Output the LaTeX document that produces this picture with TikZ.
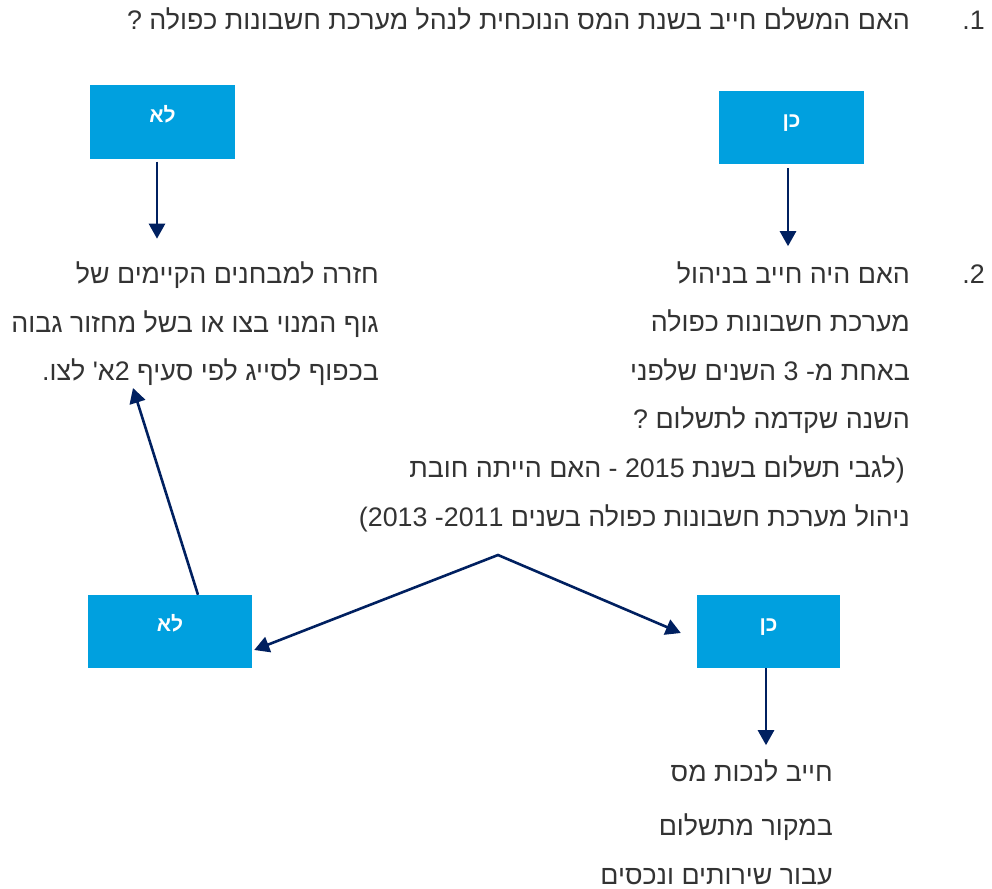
\documentclass[tikz,border=0pt]{standalone}
\usepackage{fontspec}
\setmainfont{Liberation Sans}
\newfontfamily\heb[Script=Hebrew]{Liberation Sans}
\TeXXeTstate=1
\usetikzlibrary{arrows.meta,calc}
\definecolor{boxblue}{RGB}{0,160,223}
\definecolor{navy}{RGB}{0,32,96}
\definecolor{txtgray}{RGB}{51,51,51}
\newcommand\RL[1]{\beginR #1\endR}
\begin{document}
\begin{tikzpicture}[x=1pt,y=-1pt,
  txt/.style={inner sep=0pt, anchor=base east, font=\heb\fontsize{26.8}{30}\selectfont, text=txtgray},
  ybox/.style={fill=boxblue, minimum height=73pt, inner sep=0pt, text height=0pt, text depth=0pt, text=white, font=\heb\bfseries\fontsize{21}{24}\selectfont},
  arr/.style={draw=navy, line width=2.6pt, -{Triangle[width=16pt,length=15pt]}},
  arrboth/.style={draw=navy, line width=2.6pt, line join=miter, {Triangle[width=16pt,length=15pt]}-{Triangle[width=16pt,length=15pt]}}]
\useasboundingbox[fill=white] (0,0) rectangle (992,888);

% question 1
\node[txt] (n1) at (985,30) {\RL{1.}};
\node[txt] (q1) at (910,30) {\RL{האם המשלם חייב בשנת המס הנוכחית לנהל מערכת חשבונות כפולה ?}};

% first answers
\node[ybox, minimum width=145pt] (noA) at (162.5,122) {\RL{לא}};
\node[ybox, minimum width=145pt] (yesA) at (791.5,127.5) {\RL{כן}};

% left text block
\node[txt] (l1) at (379,283) {\RL{חזרה למבחנים הקיימים של}};
\node[txt] (l2) at (379,332) {\RL{גוף המנוי בצו או בשל מחזור גבוה}};
\node[txt] (l3) at (379,380) {\RL{בכפוף לסייג לפי סעיף 2א' לצו.}};

% question 2
\node[txt] (n2) at (985,283) {\RL{2.}};
\node[txt] (q2a) at (910,283) {\RL{האם היה חייב בניהול}};
\node[txt] (q2b) at (910,331) {\RL{מערכת חשבונות כפולה}};
\node[txt] (q2c) at (910,380) {\RL{באחת מ- 3 השנים שלפני}};
\node[txt] (q2d) at (910,428) {\RL{השנה שקדמה לתשלום ?}};
\node[txt] (q2e) at (905,477) {\RL{(לגבי תשלום בשנת 2015 - האם הייתה חובת}};
\node[txt] (q2f) at (910,526) {\RL{ניהול מערכת חשבונות כפולה בשנים 2011- 2013)}};

% second answers
\node[ybox, minimum width=164pt] (noB) at (170,631.5) {\RL{לא}};
\node[ybox, minimum width=143pt] (yesB) at (768.5,631.5) {\RL{כן}};

% bottom text block
\node[txt] (b1) at (833,781) {\RL{חייב לנכות מס}};
\node[txt] (b2) at (833,835) {\RL{במקור מתשלום}};
\node[txt] (b3) at (833,884.5) {\RL{עבור שירותים ונכסים}};

% connectors
\coordinate (peak) at (498,555);
\coordinate (upTip) at (133,388);
\draw[arr] ($(noA.south)+(-5.5,3)$) -- ($(noA.south)+(-5.5,80)$);
\draw[arr] ($(yesA.south)+(-3.5,4)$) -- ($(yesA.south)+(-3.5,82)$);
\draw[arrboth] ($(noB.east)+(2,18.5)$) -- (peak) -- ($(yesB.west)+(-16,1.5)$);
\draw[arr] ($(noB.north)+(28,0)$) -- (upTip);
\draw[arr] ($(yesB.south)+(-2.5,0)$) -- ($(yesB.south)+(-2.5,77)$);
\end{tikzpicture}
\end{document}
